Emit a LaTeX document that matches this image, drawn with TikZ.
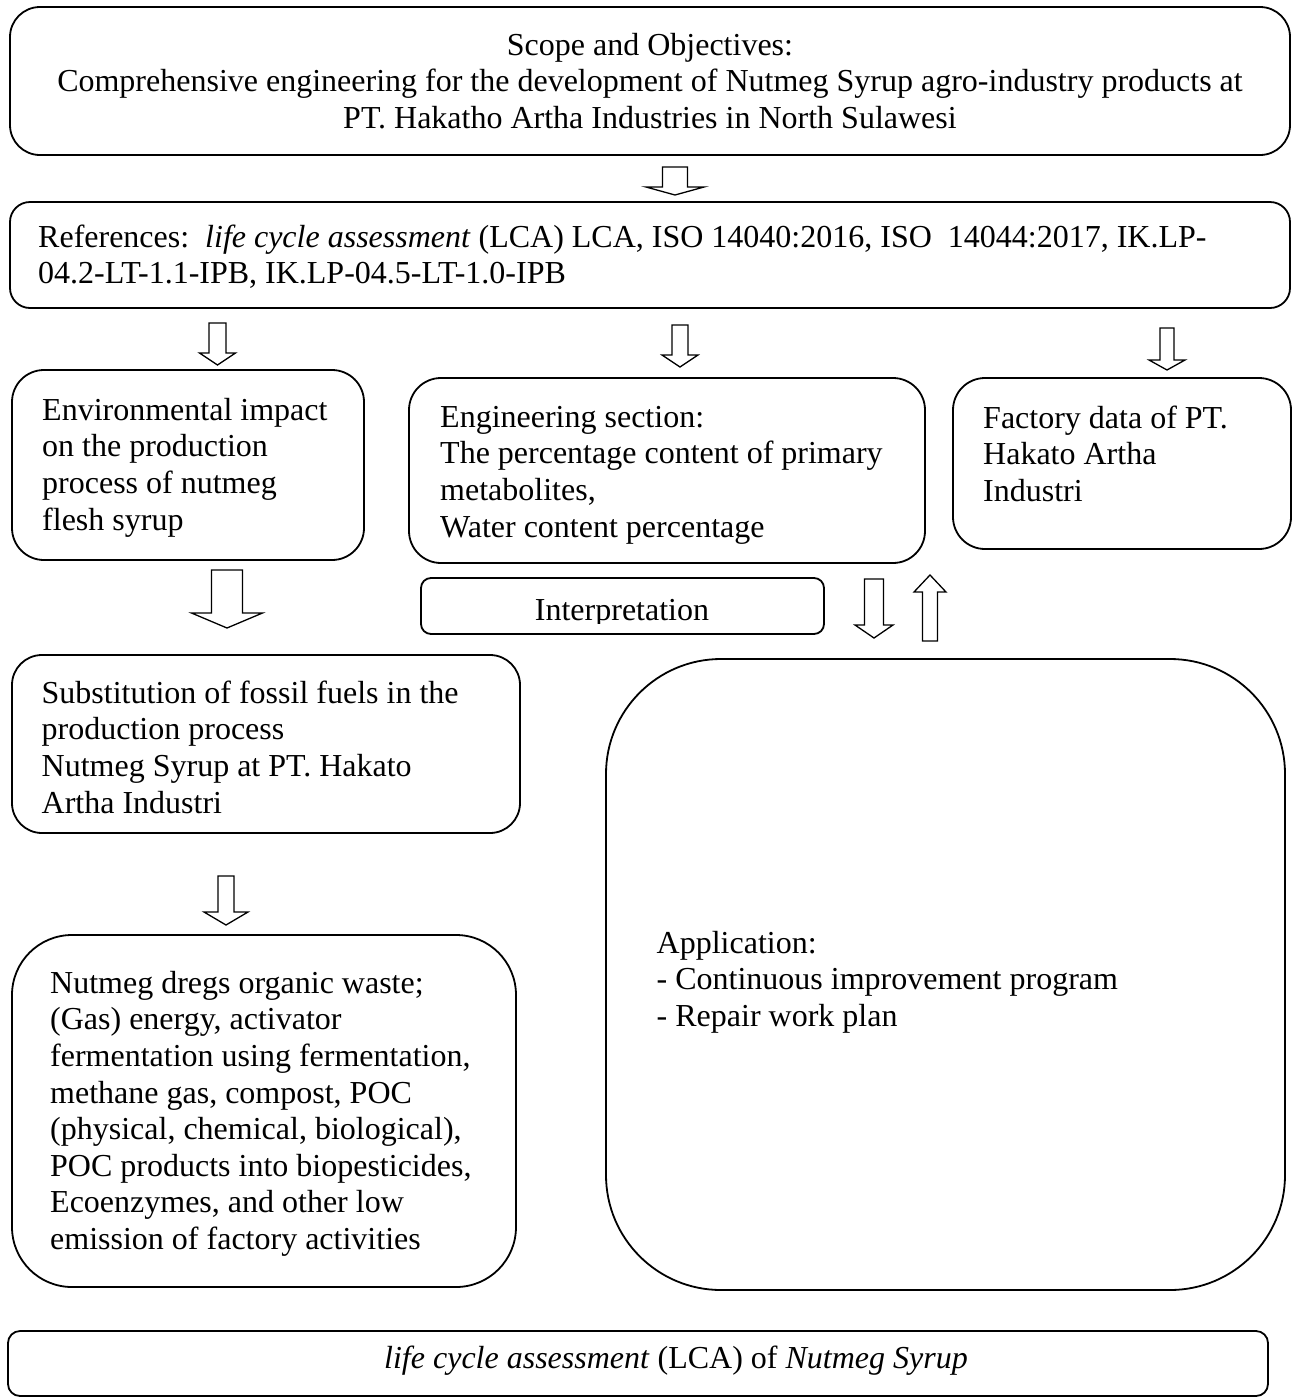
\documentclass[tikz,border=0pt]{standalone}
\usepackage{fontspec}
\setmainfont{Liberation Serif}
\newcommand{\blkdown}[6]{%
  \draw[blk] ({#1-#4},#2) -- ({#1+#4},#2) -- ({#1+#4},{#3-#6}) -- ({#1+#5},{#3-#6}) -- (#1,#3) -- ({#1-#5},{#3-#6}) -- ({#1-#4},{#3-#6}) -- cycle;}
\newcommand{\blkup}[6]{%
  \draw[blk] ({#1-#4},#2) -- ({#1+#4},#2) -- ({#1+#4},{#3+#6}) -- ({#1+#5},{#3+#6}) -- (#1,#3) -- ({#1-#5},{#3+#6}) -- ({#1-#4},{#3+#6}) -- cycle;}
\begin{document}
\begin{tikzpicture}[x=1pt,y=-1pt,
  box/.style={draw=black, line width=1.8pt, inner sep=0pt, outer sep=0pt},
  blk/.style={draw=black, line width=1.3pt, fill=white, miter limit=20},
  txt/.style={inner sep=0pt, anchor=north west, align=left, font=\fontsize{32}{36.6}\selectfont},
  txtc/.style={inner sep=0pt, anchor=north, align=center, font=\fontsize{32}{36.6}\selectfont}]
\useasboundingbox (0,0) rectangle (1295,1398);
\fill[white] (0,0) rectangle (1295,1398);
% boxes
\node[box, rounded corners=30pt, minimum width=1280pt, minimum height=148pt] (b1) at (650,81) {};
\node[box, rounded corners=20pt, minimum width=1280pt, minimum height=106pt] (b2) at (650,255) {};
\node[box, rounded corners=32pt, minimum width=352pt, minimum height=190pt] (b3) at (188,465) {};
\node[box, rounded corners=32pt, minimum width=516pt, minimum height=185pt] (b4) at (667,470.5) {};
\node[box, rounded corners=32pt, minimum width=338pt, minimum height=171pt] (b5) at (1122,463.5) {};
\node[box, rounded corners=10pt, minimum width=403pt, minimum height=56pt] (b6) at (622.5,606) {};
\node[box, rounded corners=30pt, minimum width=508pt, minimum height=178pt] (b7) at (266,744) {};
\node[box, rounded corners=115pt, minimum width=679pt, minimum height=631pt] (b8) at (945.5,974.5) {};
\node[box, rounded corners=60pt, minimum width=504pt, minimum height=352pt] (b9) at (264,1111) {};
\node[box, rounded corners=12pt, minimum width=1260pt, minimum height=65pt] (b10) at (638,1363.5) {};
% texts
\node[txtc] (t1) at (650,{55-25.62}) {\strut Scope and Objectives:\\Comprehensive engineering for the development of Nutmeg Syrup agro-industry products at\\PT. Hakatho Artha Industries in North Sulawesi};
\node[txt] (t2) at (38,{247-25.62}) {\strut References:\ \ \textit{life cycle assessment} (LCA) LCA, ISO 14040:2016, ISO\ \ 14044:2017, IK.LP-\\04.2-LT-1.1-IPB, IK.LP-04.5-LT-1.0-IPB};
\node[txt] (t3) at (42,{420-25.62}) {\strut Environmental impact\\on the production\\process of nutmeg\\flesh syrup};
\node[txt] (t4) at (440,{427-25.62}) {\strut Engineering section:\\The percentage content of primary\\metabolites,\\Water content percentage};
\node[txt] (t5) at (983,{428-25.62}) {\strut Factory data of PT.\\Hakato Artha\\Industri};
\begin{scope}
\clip (421,570) rectangle (824,623);
\node[txtc] (t6) at (622,{620-25.62}) {\strut Interpretation};
\end{scope}
\begin{scope}
\clip (12,650) rectangle (520,815);
\node[txt] (t7) at (41.5,{703-25.62}) {\strut Substitution of fossil fuels in the\\production process\\Nutmeg Syrup at PT. Hakato\\Artha Industri};
\end{scope}
\node[txt] (t8) at (656.5,{953-25.62}) {\strut Application:\\- Continuous improvement program\\- Repair work plan};
\node[txt] (t9) at (50,{993-25.62}) {\strut Nutmeg dregs organic waste;\\(Gas) energy, activator\\fermentation using fermentation,\\methane gas, compost, POC\\(physical, chemical, biological),\\POC products into biopesticides,\\Ecoenzymes, and other low\\emission of factory activities};
\node[txtc] (t10) at (676,{1368-25.62}) {\strut\textit{life cycle assessment} (LCA) of \textit{Nutmeg Syrup}};
% block arrows
\blkdown{675}{167}{195}{12.5}{29}{8}
\blkdown{217.5}{323}{365}{8.5}{18}{12}
\blkdown{680}{325}{367}{8}{18}{12}
\blkdown{1167}{328}{370}{7}{18}{10}
\blkdown{227}{570}{628}{15.5}{35.5}{15}
\blkdown{874}{579}{638}{9.5}{19}{13}
\blkup{930}{641}{575}{7.5}{16}{17}
\blkdown{226}{876}{925}{8}{22}{13}
\end{tikzpicture}
\end{document}
